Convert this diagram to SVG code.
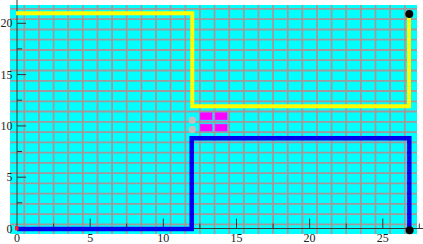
<svg xmlns="http://www.w3.org/2000/svg" width="423" height="244" viewBox="0 0 423 244">
<defs>
<style>
.grid line{stroke:#a09a9a;stroke-width:1.8}
.axis{stroke:#333;stroke-width:1;fill:none}
.lbl{font-family:"Liberation Serif","Times New Roman",serif;font-size:12px;fill:#222}
.ylbl{text-anchor:end}
.xlbl{text-anchor:middle}
.mag{fill:#ff00ff;stroke:#b060ff;stroke-width:0.5}
</style>
</defs>
<rect x="0" y="0" width="423" height="244" fill="#ffffff"/>
<rect x="10" y="5" width="407" height="229" fill="#00ffff"/>
<g class="grid">
<line x1="24.3" y1="5" x2="24.3" y2="234"/>
<line x1="38.9" y1="5" x2="38.9" y2="234"/>
<line x1="53.6" y1="5" x2="53.6" y2="234"/>
<line x1="68.2" y1="5" x2="68.2" y2="234"/>
<line x1="82.8" y1="5" x2="82.8" y2="234"/>
<line x1="97.5" y1="5" x2="97.5" y2="234"/>
<line x1="112.1" y1="5" x2="112.1" y2="234"/>
<line x1="126.7" y1="5" x2="126.7" y2="234"/>
<line x1="141.4" y1="5" x2="141.4" y2="234"/>
<line x1="156.0" y1="5" x2="156.0" y2="234"/>
<line x1="170.6" y1="5" x2="170.6" y2="234"/>
<line x1="185.3" y1="5" x2="185.3" y2="234"/>
<line x1="199.9" y1="5" x2="199.9" y2="234"/>
<line x1="214.5" y1="5" x2="214.5" y2="234"/>
<line x1="229.2" y1="5" x2="229.2" y2="234"/>
<line x1="243.8" y1="5" x2="243.8" y2="234"/>
<line x1="258.4" y1="5" x2="258.4" y2="234"/>
<line x1="273.1" y1="5" x2="273.1" y2="234"/>
<line x1="287.7" y1="5" x2="287.7" y2="234"/>
<line x1="302.3" y1="5" x2="302.3" y2="234"/>
<line x1="317.0" y1="5" x2="317.0" y2="234"/>
<line x1="331.6" y1="5" x2="331.6" y2="234"/>
<line x1="346.2" y1="5" x2="346.2" y2="234"/>
<line x1="360.9" y1="5" x2="360.9" y2="234"/>
<line x1="375.5" y1="5" x2="375.5" y2="234"/>
<line x1="390.1" y1="5" x2="390.1" y2="234"/>
<line x1="404.8" y1="5" x2="404.8" y2="234"/>
<line x1="10" y1="224.4" x2="417" y2="224.4"/>
<line x1="10" y1="214.1" x2="417" y2="214.1"/>
<line x1="10" y1="203.9" x2="417" y2="203.9"/>
<line x1="10" y1="193.6" x2="417" y2="193.6"/>
<line x1="10" y1="183.4" x2="417" y2="183.4"/>
<line x1="10" y1="173.1" x2="417" y2="173.1"/>
<line x1="10" y1="162.8" x2="417" y2="162.8"/>
<line x1="10" y1="152.6" x2="417" y2="152.6"/>
<line x1="10" y1="142.3" x2="417" y2="142.3"/>
<line x1="10" y1="132.1" x2="417" y2="132.1"/>
<line x1="10" y1="121.8" x2="417" y2="121.8"/>
<line x1="10" y1="111.5" x2="417" y2="111.5"/>
<line x1="10" y1="101.3" x2="417" y2="101.3"/>
<line x1="10" y1="91.0" x2="417" y2="91.0"/>
<line x1="10" y1="80.8" x2="417" y2="80.8"/>
<line x1="10" y1="70.5" x2="417" y2="70.5"/>
<line x1="10" y1="60.2" x2="417" y2="60.2"/>
<line x1="10" y1="50.0" x2="417" y2="50.0"/>
<line x1="10" y1="39.7" x2="417" y2="39.7"/>
<line x1="10" y1="29.5" x2="417" y2="29.5"/>
<line x1="10" y1="19.2" x2="417" y2="19.2"/>
<line x1="10" y1="8.9" x2="417" y2="8.9"/>
</g>
<g id="axes">
<path class="axis" d="M17 0 V228.5 H423"/>
<path class="axis" d="M17 23.3 H26 M17 74.6 H26 M17 125.9 H26 M17 177.2 H26 M17 48.9 H22 M17 100.2 H22 M17 151.5 H22 M17 202.8 H22"/>
<path class="axis" d="M90.2 228.5 V218.5 M163.3 228.5 V218.5 M236.5 228.5 V218.5 M309.6 228.5 V218.5 M382.8 228.5 V218.5 M53.6 228.5 V223.5 M126.7 228.5 V223.5 M199.9 228.5 V223.5 M273.1 228.5 V223.5 M346.2 228.5 V223.5 M419.3 228.5 V223.5"/>
<text class="lbl ylbl" x="12.5" y="27.4">20</text>
<text class="lbl ylbl" x="12.5" y="78.7">15</text>
<text class="lbl ylbl" x="12.5" y="130">10</text>
<text class="lbl ylbl" x="12.5" y="181.3">5</text>
<text class="lbl ylbl" x="12.5" y="232.6">0</text>
<text class="lbl xlbl" x="17" y="242">0</text>
<text class="lbl xlbl" x="90.2" y="242">5</text>
<text class="lbl xlbl" x="163.3" y="242">10</text>
<text class="lbl xlbl" x="236.5" y="242">15</text>
<text class="lbl xlbl" x="309.6" y="242">20</text>
<text class="lbl xlbl" x="382.8" y="242">25</text>
</g>
<g id="connectors">
<path id="yellow-route" d="M16 13.3 H192.3 V106.3 H409 V14" fill="none" stroke="#ffff00" stroke-width="4"/>
<path id="blue-route" d="M17 229 H191.7 V138.3 H409.3 V230" fill="none" stroke="#0000ee" stroke-width="4.5"/>
</g>
<g id="origin-marker"><rect x="15" y="226" width="3.5" height="4.5" fill="#ff2020"/></g>
<g id="pins">
<circle cx="192.3" cy="120.2" r="3.6" fill="#c0c0c0"/>
<circle cx="192.3" cy="129.4" r="3.6" fill="#c0c0c0"/>
</g>
<g id="pads">
<rect class="mag" x="200" y="112.3" width="12.3" height="7.7"/>
<rect class="mag" x="215" y="112.3" width="12.3" height="7.7"/>
<rect class="mag" x="200" y="124" width="12.3" height="7.2"/>
<rect class="mag" x="215" y="124" width="12.3" height="7.2"/>
</g>
<g id="endpoints">
<circle cx="409.3" cy="14" r="4" fill="#000"/>
<circle cx="409.6" cy="230.2" r="4" fill="#000"/>
</g>
</svg>
